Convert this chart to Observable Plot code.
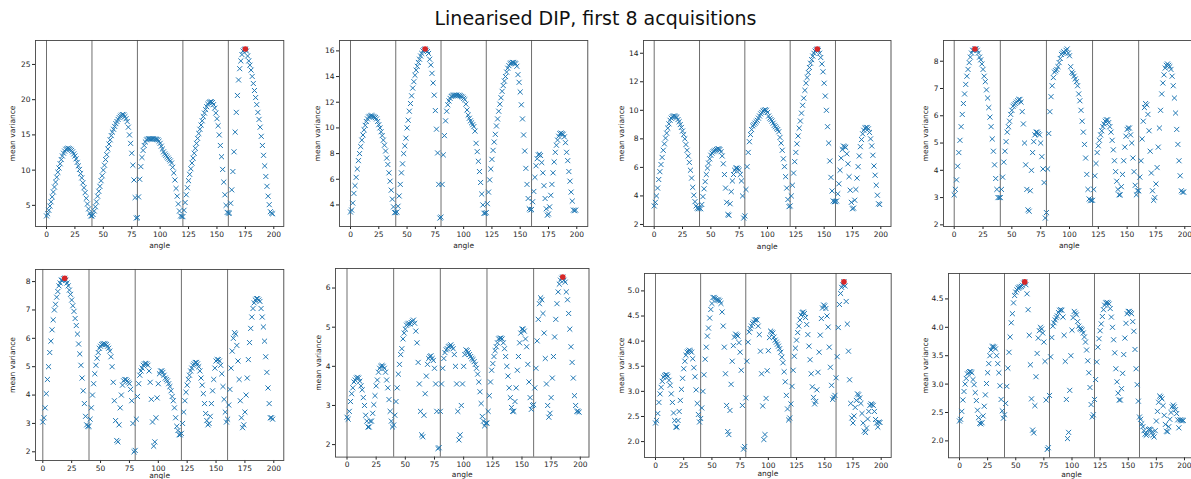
<!DOCTYPE html>
<html><head><meta charset="utf-8">
<script src="https://cdn.jsdelivr.net/npm/d3@7"></script>
<script src="https://cdn.jsdelivr.net/npm/@observablehq/plot@0.6"></script>
<style>
html,body{margin:0;padding:0;background:#fff;}
body{width:1191px;height:479px;overflow:hidden;position:relative;font-family:"DejaVu Sans",sans-serif;}
#title{position:absolute;left:0;width:1191px;top:7px;text-align:center;font-size:19px;color:#111;font-family:"DejaVu Sans",sans-serif;}
</style></head><body>
<div id="title">Linearised DIP, first 8 acquisitions</div>
<script>
// ---- data (mean variance per angle, angles 0..199) ----
const acq1 = [3.5,3.8,4.3,4.9,5.5,6.2,6.9,7.6,8.3,9.0,9.7,10.3,10.9,11.5,12.0,12.4,12.7,12.95,13.05,13.1,13.05,12.95,12.8,12.6,12.3,12.0,11.6,11.1,10.6,10.1,9.5,8.9,8.2,7.5,6.8,6.0,5.2,4.5,3.9,3.5,
3.5,3.7,4.2,4.8,5.5,6.3,7.0,7.7,8.5,9.2,10.0,10.7,11.5,12.2,13.0,13.7,14.3,14.9,15.4,15.8,16.2,16.6,16.9,17.2,17.45,17.65,17.8,17.9,17.85,17.6,17.3,16.9,16.1,15.0,13.8,12.4,10.7,8.6,6.1,3.2,
3.25,6.2,8.7,10.5,11.8,12.8,13.5,14.0,14.3,14.4,14.45,14.45,14.45,14.45,14.45,14.4,14.4,14.35,14.3,14.1,13.8,13.4,13.0,12.6,12.3,12.1,11.9,11.7,11.5,11.3,11.0,10.4,9.6,8.6,7.4,6.3,5.2,4.2,3.5,3.4,
3.4,4.3,5.4,6.5,7.5,8.5,9.4,10.2,11.0,11.7,12.4,13.1,13.8,14.5,15.2,15.8,16.4,17.0,17.6,18.1,18.6,19.0,19.35,19.6,19.7,19.7,19.6,19.3,18.8,18.1,17.3,16.3,15.0,13.5,11.9,10.1,8.3,6.5,5.0,4.0,
3.9,3.9,5.3,7.2,9.8,12.6,15.4,18.2,20.6,22.8,24.4,25.5,26.4,26.9,27.1,27.2,26.9,26.2,25.5,24.9,24.2,23.3,22.3,21.3,20.3,19.3,18.2,17.2,16.1,14.8,13.5,12.1,10.6,9.1,7.7,6.3,5.1,4.1,3.9,3.8];
const acq2 = [3.45,3.6,4.15,4.9,5.5,6.15,6.8,7.45,8.0,8.55,9.05,9.45,9.85,10.2,10.5,10.7,10.85,10.9,10.95,10.95,10.9,10.85,10.8,10.7,10.5,10.25,10.0,9.7,9.4,9.05,8.65,8.2,7.65,7.15,6.5,5.85,5.15,4.45,3.85,3.4,
3.4,3.45,3.9,4.7,5.6,6.5,7.2,8.0,8.6,9.2,10.0,10.6,11.3,11.9,12.5,13.1,13.6,14.1,14.5,14.8,15.1,15.35,15.6,15.8,16.0,16.1,16.15,16.05,15.95,15.8,15.35,14.9,14.25,13.5,12.55,11.35,9.9,8.05,5.6,2.98,
3.05,5.6,7.9,9.4,10.55,11.3,11.8,12.1,12.3,12.45,12.5,12.55,12.55,12.55,12.55,12.5,12.55,12.5,12.45,12.4,12.3,12.2,11.85,11.4,11.0,10.75,10.55,10.4,10.25,10.1,9.75,8.8,8.15,7.4,6.6,5.75,4.85,4.0,3.35,3.35,
3.4,4.1,5.0,5.95,6.8,7.55,8.25,8.9,9.5,10.15,10.7,11.3,11.85,12.35,12.85,13.3,13.65,14.0,14.35,14.65,14.85,15.0,15.05,15.1,15.1,15.05,15.0,14.8,14.15,13.55,12.8,11.8,10.7,9.45,8.2,6.85,5.6,4.5,3.7,3.6,
3.65,4.25,5.05,6.15,7.05,7.6,7.9,7.95,7.85,7.3,6.5,5.5,4.5,3.7,3.2,3.3,3.85,4.75,5.6,6.5,7.35,8.1,8.65,9.05,9.35,9.55,9.6,9.55,9.5,9.3,8.85,8.1,7.45,6.6,5.85,5.0,4.3,3.6,3.55,3.6];
const acq3 = [3.3,3.55,4.0,4.55,5.15,5.7,6.2,6.7,7.2,7.65,8.05,8.4,8.75,9.05,9.3,9.45,9.55,9.6,9.6,9.55,9.5,9.35,9.2,9.0,8.8,8.55,8.3,8.0,7.6,7.2,6.8,6.35,5.8,5.25,4.6,4.05,3.6,3.3,3.15,3.1,
3.15,3.1,3.4,3.95,4.5,5.0,5.5,5.95,6.3,6.6,6.85,7.0,7.1,7.15,7.2,7.25,7.3,7.3,7.25,7.1,6.8,6.25,5.5,4.55,3.55,2.7,2.65,3.45,4.3,5.05,5.5,5.8,5.95,5.95,5.9,5.8,5.5,5.05,4.0,2.45,
2.6,4.45,6.05,7.05,7.8,8.3,8.65,8.9,9.0,9.1,9.2,9.3,9.45,9.6,9.75,9.85,9.95,10.0,10.05,10.0,9.85,9.6,9.45,9.35,9.25,9.1,8.95,8.85,8.75,8.65,8.5,8.1,7.7,7.2,6.6,6.05,5.35,4.55,3.75,3.25,
3.3,4.0,4.75,5.6,6.4,7.05,7.65,8.2,8.75,9.25,9.8,10.35,10.85,11.4,11.9,12.3,12.65,13.0,13.3,13.55,13.8,14.0,14.15,14.25,14.3,14.2,14.0,13.7,13.25,12.7,11.9,11.0,10.0,8.85,7.7,6.45,5.3,4.35,3.65,3.6,
3.6,3.65,4.15,4.85,5.8,6.65,7.25,7.5,7.45,7.4,6.95,6.25,5.35,4.4,3.55,3.1,3.15,3.7,4.45,5.25,6.05,6.8,7.45,7.95,8.35,8.6,8.75,8.8,8.8,8.7,8.45,8.0,7.5,6.85,6.1,5.45,4.75,4.05,3.45,3.4];
const acq4 = [3.1,3.3,3.65,4.15,4.65,5.1,5.6,6.05,6.45,6.8,7.15,7.45,7.7,7.95,8.15,8.3,8.4,8.4,8.45,8.45,8.4,8.3,8.15,8.05,7.9,7.7,7.45,7.25,6.95,6.65,6.3,5.95,5.6,5.15,4.7,4.2,3.7,3.3,3.0,3.0,
3.0,3.3,3.75,4.3,4.7,5.05,5.4,5.6,5.8,6.05,6.2,6.35,6.4,6.45,6.5,6.55,6.6,6.6,6.5,6.15,5.7,5.0,4.2,3.3,2.55,2.5,3.25,4.0,4.65,5.05,5.3,5.4,5.4,5.35,5.3,5.0,4.5,4.05,3.55,2.25,
2.45,4.05,5.35,6.15,6.7,7.1,7.4,7.6,7.65,7.7,7.8,7.95,8.1,8.25,8.3,8.35,8.3,8.4,8.45,8.3,8.2,7.8,7.6,7.55,7.45,7.35,7.25,7.1,6.8,6.55,6.2,5.8,5.4,4.95,4.45,3.85,3.3,2.95,2.9,2.9,
2.9,3.3,3.8,4.25,4.65,4.9,5.1,5.3,5.45,5.6,5.7,5.8,5.85,5.85,5.75,5.6,5.4,5.1,4.75,4.35,3.95,3.6,3.3,3.1,3.1,3.4,3.85,4.35,4.85,5.25,5.5,5.55,5.55,5.3,5.0,4.45,3.95,3.45,3.1,3.25,
3.25,3.75,4.35,5.15,5.8,6.3,6.45,6.4,6.05,5.45,4.7,3.9,3.25,2.9,3.0,3.5,4.1,4.85,5.55,6.2,6.8,7.2,7.5,7.75,7.85,7.9,7.85,7.8,7.7,7.45,7.1,6.65,6.1,5.5,4.95,4.35,3.8,3.25,3.2,3.2];
const acq5 = [3.05,3.2,3.55,4.05,4.55,5.0,5.5,5.9,6.3,6.65,7.0,7.2,7.45,7.65,7.85,7.95,8.05,8.05,8.1,8.12,8.05,7.95,7.85,7.7,7.55,7.35,7.15,6.95,6.7,6.45,6.15,5.8,5.45,5.05,4.6,4.15,3.7,3.25,2.95,2.9,
2.9,3.15,3.55,4.0,4.4,4.75,5.05,5.3,5.5,5.65,5.72,5.78,5.8,5.82,5.8,5.78,5.72,5.65,5.55,5.35,5.0,4.45,3.8,3.1,2.4,2.35,2.95,3.55,4.0,4.35,4.5,4.55,4.55,4.5,4.45,4.4,4.2,3.8,3.0,2.0,
2.05,3.15,3.95,4.4,4.7,4.85,4.95,5.05,5.1,5.12,5.1,5.05,4.85,4.45,3.85,3.05,2.2,2.35,3.2,3.9,4.4,4.75,4.85,4.85,4.8,4.7,4.6,4.55,4.5,4.4,4.3,4.15,3.95,3.8,3.55,3.2,2.9,2.75,2.6,2.6,
2.65,3.0,3.4,3.8,4.1,4.35,4.55,4.7,4.85,4.95,5.05,5.1,5.15,5.15,5.1,5.0,4.85,4.6,4.35,4.05,3.7,3.35,3.1,2.95,3.0,3.25,3.7,4.15,4.55,4.95,5.2,5.25,5.25,5.2,5.05,4.75,4.3,3.85,3.4,3.05,
3.15,3.65,4.2,4.95,5.55,6.0,6.2,6.15,5.75,5.2,4.55,3.8,3.2,2.85,2.95,3.4,4.0,4.6,5.25,5.85,6.35,6.75,7.05,7.25,7.35,7.4,7.4,7.35,7.3,7.05,6.75,6.4,5.9,5.35,4.8,4.25,3.7,3.2,3.2,3.15];
const acq6 = [2.7,2.65,2.85,3.1,3.3,3.45,3.6,3.65,3.7,3.72,3.7,3.62,3.5,3.4,3.2,3.0,2.75,2.6,2.45,2.45,2.6,2.6,2.8,3.02,3.25,3.5,3.65,3.85,3.95,4.0,4.02,4.0,3.95,3.85,3.65,3.45,3.15,2.85,2.6,2.45,
2.5,2.75,3.1,3.45,3.8,4.05,4.3,4.45,4.7,4.85,4.95,5.05,5.08,5.1,5.08,5.12,5.15,5.18,5.1,4.9,4.6,4.1,3.55,2.85,2.25,2.2,2.75,3.3,3.75,4.05,4.2,4.25,4.27,4.2,4.15,3.95,3.55,2.85,1.9,1.92,
2.85,3.55,3.95,4.2,4.35,4.42,4.45,4.5,4.52,4.55,4.5,4.45,4.3,4.0,3.55,2.85,2.12,2.25,3.0,3.55,4.0,4.3,4.42,4.4,4.35,4.3,4.25,4.2,4.17,4.12,4.05,3.95,3.8,3.6,3.35,3.05,2.72,2.6,2.48,2.55,
2.55,2.85,3.25,3.6,3.9,4.07,4.25,4.4,4.5,4.6,4.7,4.72,4.72,4.7,4.6,4.45,4.25,4.0,3.75,3.45,3.2,2.95,2.85,2.85,3.1,3.45,3.9,4.25,4.6,4.85,4.95,4.95,4.9,4.7,4.5,4.05,3.6,3.2,2.9,3.0,
3.02,3.45,3.95,4.65,5.2,5.6,5.75,5.7,5.35,4.85,4.2,3.55,3.0,2.7,2.8,3.2,3.7,4.25,4.75,5.2,5.6,5.9,6.1,6.2,6.25,6.28,6.2,6.15,5.9,5.7,5.35,4.95,4.5,4.1,3.7,3.25,3.0,2.85,2.85,2.83];
const acq7 = [2.37,2.42,2.56,2.78,2.95,3.08,3.2,3.28,3.31,3.33,3.33,3.3,3.22,3.12,2.95,2.78,2.57,2.42,2.29,2.29,2.42,2.6,2.82,3.04,3.26,3.45,3.6,3.72,3.78,3.8,3.82,3.8,3.78,3.65,3.47,3.29,3.03,2.76,2.54,2.39,
2.46,2.67,3.0,3.33,3.64,3.88,4.1,4.26,4.46,4.63,4.75,4.87,4.87,4.85,4.82,4.82,4.82,4.8,4.75,4.58,4.3,3.88,3.35,2.72,2.2,2.14,2.62,3.14,3.6,3.91,4.08,4.14,4.12,4.1,3.97,3.78,3.42,2.72,1.85,1.9,
2.87,3.6,3.98,4.18,4.25,4.3,4.35,4.38,4.42,4.43,4.42,4.3,4.13,3.8,3.35,2.71,2.04,2.14,2.86,3.41,3.81,4.07,4.2,4.18,4.16,4.08,4.02,3.98,3.94,3.9,3.85,3.78,3.68,3.57,3.39,3.19,2.92,2.65,2.43,2.47,
2.75,3.1,3.42,3.7,3.86,4.02,4.17,4.3,4.42,4.52,4.57,4.58,4.55,4.47,4.33,4.13,3.9,3.63,3.35,3.09,2.88,2.75,2.8,3.03,3.38,3.78,4.12,4.45,4.66,4.72,4.7,4.65,4.5,4.28,3.88,3.48,3.12,2.84,2.88,2.92,
3.27,3.69,4.27,4.73,4.95,5.07,5.12,5.18,5.1,4.79,4.34,3.8,3.23,2.76,2.47,2.37,2.51,2.68,2.82,2.95,2.93,2.87,2.76,2.56,2.37,2.21,2.18,2.27,2.45,2.6,2.72,2.75,2.74,2.72,2.6,2.44,2.37,2.29,2.39,2.38];
const acq8 = [2.35,2.38,2.52,2.72,2.87,3.0,3.1,3.18,3.2,3.22,3.22,3.2,3.08,2.99,2.85,2.71,2.54,2.41,2.31,2.3,2.32,2.44,2.61,2.81,3.01,3.2,3.36,3.5,3.6,3.66,3.66,3.65,3.62,3.5,3.36,3.2,2.97,2.73,2.53,2.4,
2.46,2.66,2.96,3.28,3.56,3.83,4.08,4.24,4.43,4.56,4.62,4.66,4.69,4.7,4.71,4.72,4.74,4.78,4.8,4.75,4.59,4.31,3.86,3.34,2.74,2.19,2.14,2.62,3.13,3.54,3.81,3.94,4.0,3.97,3.9,3.74,3.4,2.72,1.85,1.88,
2.8,3.48,3.82,4.02,4.08,4.13,4.17,4.2,4.26,4.3,4.31,4.3,4.18,3.86,3.4,2.73,2.04,2.15,2.89,3.5,3.95,4.17,4.28,4.25,4.22,4.1,4.02,3.98,3.97,3.95,3.9,3.83,3.74,3.6,3.41,3.2,2.94,2.64,2.42,2.46,
2.73,3.08,3.39,3.65,3.8,3.94,4.06,4.19,4.31,4.39,4.43,4.44,4.43,4.41,4.33,4.18,4.0,3.78,3.55,3.27,3.04,2.84,2.72,2.72,2.92,3.19,3.52,3.81,4.07,4.24,4.28,4.28,4.26,4.24,4.1,3.93,3.61,3.27,2.99,2.7,
2.42,2.38,2.3,2.25,2.18,2.12,2.1,2.12,2.2,2.21,2.2,2.15,2.1,2.07,2.18,2.35,2.52,2.68,2.79,2.77,2.74,2.62,2.45,2.29,2.17,2.16,2.25,2.38,2.5,2.6,2.63,2.6,2.55,2.48,2.37,2.23,2.37,2.36,2.36,2.36];

const acquisitions = [acq1, acq2, acq3, acq4, acq5, acq6, acq7, acq8];
const firstAngle = 0;               // angle of the first sample (1 degree per sample)
const segmentStarts = [0, 40, 80, 120, 160];
const xTicks = [0, 25, 50, 75, 100, 125, 150, 175, 200];
const yTicks1 = [5, 10, 15, 20, 25];
const yTicks2 = [4, 6, 8, 10, 12, 14, 16];
const yTicks3 = [2, 4, 6, 8, 10, 12, 14];
const yTicks4 = [2, 3, 4, 5, 6, 7, 8];
const yTicks5 = [2, 3, 4, 5, 6, 7, 8];
const yTicks6 = [2, 3, 4, 5, 6];
const yTicks7 = [2.0, 2.5, 3.0, 3.5, 4.0, 4.5, 5.0];
const yTicks8 = [2.0, 2.5, 3.0, 3.5, 4.0, 4.5];
const yTickSets = [yTicks1, yTicks2, yTicks3, yTicks4, yTicks5, yTicks6, yTicks7, yTicks8];
const yDecimals = [0, 0, 0, 0, 0, 0, 1, 1];

// ---- layout: px of angle 0, px of angle 200, frame left/right px, frame top/bottom px, label positions ----
const layout = [
  {x0: 46,    x200: 273.3,  left: 35,  right: 283.3,  top: 40,    bottom: 226,   yLab: 13,  xLab: 248},
  {x0: 350,   x200: 576.3,  left: 339, right: 587.3,  top: 40,    bottom: 226,   yLab: 318, xLab: 248},
  {x0: 653.7, x200: 880.3,  left: 643, right: 890.5,  top: 40,    bottom: 226,   yLab: 622, xLab: 248},
  {x0: 953.7, x200: 1184.3, left: 943, right: 1194.6, top: 40,    bottom: 226,   yLab: 926, xLab: 248},
  {x0: 42.3,  x200: 273.3,  left: 35,  right: 283.3,  top: 268.7, bottom: 459.7, yLab: 13,  xLab: 478},
  {x0: 346,   x200: 579.3,  left: 334.5, right: 588, top: 267.7, bottom: 456.3, yLab: 319, xLab: 476},
  {x0: 655.3, x200: 881,    left: 644.3, right: 891, top: 273,   bottom: 457,   yLab: 622, xLab: 476},
  {x0: 959.3, x200: 1184.3, left: 948.3, right: 1194.4, top: 272.7, bottom: 457, yLab: 926, xLab: 476}
];

acquisitions.forEach((values, k) => {
  const box = layout[k];
  const ppu = (box.x200 - box.x0) / 200;
  const xDomain = [(box.left - box.x0) / ppu, (box.right - box.x0) / ppu];
  const lo = d3.min(values), hi = d3.max(values), pad = (hi - lo) * 0.05;
  const data = values.map((v, i) => ({angle: firstAngle + i, value: v}));
  const peak = data[d3.maxIndex(values)];
  const mL = 40, mR = 4, mT = 4, mB = 30;
  const fmt = d3.format("." + yDecimals[k] + "f");
  const chart = Plot.plot({
    width: (box.right - box.left) + mL + mR,
    height: (box.bottom - box.top) + mT + mB,
    marginLeft: mL, marginRight: mR, marginTop: mT, marginBottom: mB,
    style: {fontFamily: "DejaVu Sans, sans-serif", fontSize: "7.5px", color: "#222", background: "transparent", overflow: "visible"},
    x: {domain: xDomain, ticks: xTicks, tickSize: 3, tickPadding: 2, label: "angle", labelAnchor: "center", labelArrow: "none", labelOffset: Math.min(box.xLab - box.bottom, 479 - box.bottom - 1.5)},
    y: {domain: [lo - pad, hi + pad], ticks: yTickSets[k], tickFormat: fmt, tickSize: 3, tickPadding: 2, label: "mean variance", labelAnchor: "center", labelArrow: "none", labelOffset: box.left - box.yLab + 4},
    marks: [
      Plot.ruleX(segmentStarts, {stroke: "#6e6e6e", strokeWidth: 1}),
      Plot.dot(data, {x: "angle", y: "value", symbol: "times", r: 2.4, stroke: "#1f77b4", strokeWidth: 1}),
      Plot.dot([peak], {x: "angle", y: "value", r: 2.8, fill: "#d62728", stroke: "none"}),
      Plot.frame({stroke: "#444", strokeWidth: 0.9})
    ]
  });
  chart.style.position = "absolute";
  chart.style.left = (box.left - mL) + "px";
  chart.style.top = (box.top - mT) + "px";
  document.body.appendChild(chart);
});
</script>
</body></html>
